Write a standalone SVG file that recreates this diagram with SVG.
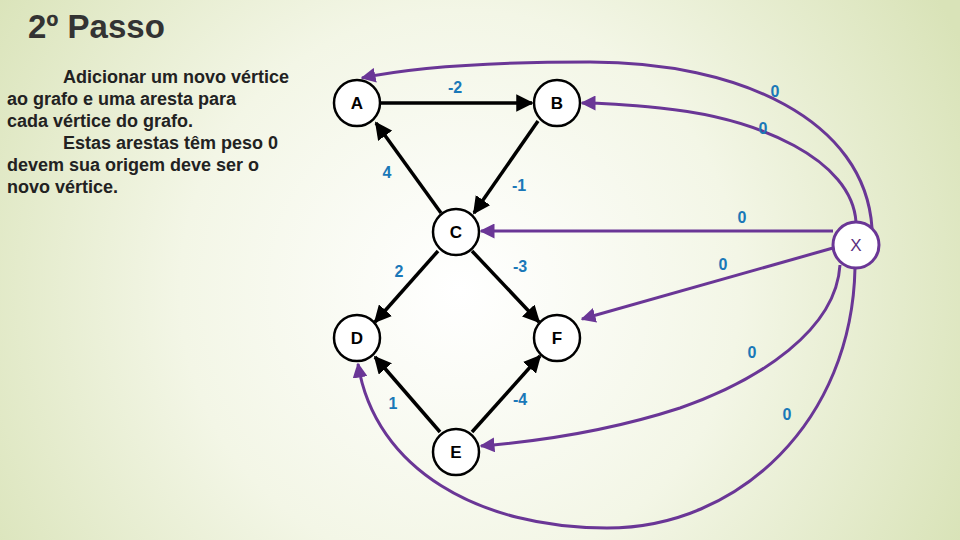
<svg xmlns="http://www.w3.org/2000/svg" width="960" height="540" viewBox="0 0 960 540">
<defs>
<radialGradient id="bg" cx="460" cy="290" r="560" gradientUnits="userSpaceOnUse">
<stop offset="0" stop-color="#ffffff"/><stop offset="0.5" stop-color="#f3f6e6"/><stop offset="1" stop-color="#d9e3b8"/>
</radialGradient>
<marker id="ab" viewBox="0 0 10 10" refX="9" refY="5" markerWidth="5" markerHeight="5" orient="auto"><path d="M0,0L10,5L0,10z" fill="#000"/></marker>
<marker id="ap" viewBox="0 0 10 10" refX="9" refY="5" markerWidth="5" markerHeight="5" orient="auto"><path d="M0,0L10,5L0,10z" fill="#6a3696"/></marker>
</defs>
<style>
.n{fill:#fff;stroke:#000;stroke-width:2.5}
.nt{font:bold 17px "Liberation Sans",Arial,sans-serif;text-anchor:middle;fill:#000}
.e{stroke:#000;stroke-width:3.5;fill:none;marker-end:url(#ab)}
.p{stroke:#6a3696;stroke-width:3;fill:none;marker-end:url(#ap)}
.l{font:bold 16px "Liberation Sans",Arial,sans-serif;fill:#1a78b8;text-anchor:middle}
.b{font:bold 18px "Liberation Sans",Arial,sans-serif;fill:#222}
</style>
<rect width="960" height="540" fill="url(#bg)"/>
<text x="28" y="38" style="font:bold 33px 'Liberation Sans',Arial,sans-serif;fill:#333">2º Passo</text>
<text class="b"><tspan x="63" y="83">Adicionar um novo vértice</tspan><tspan x="7" y="105">ao grafo e uma aresta para</tspan><tspan x="7" y="127">cada vértice do grafo.</tspan><tspan x="63" y="149">Estas arestas têm peso 0</tspan><tspan x="7" y="171">devem sua origem deve ser o</tspan><tspan x="7" y="193">novo vértice.</tspan></text>
<g id="connectors">
<line class="e" x1="381" y1="103" x2="532" y2="103"/>
<line class="e" x1="441" y1="213" x2="376" y2="123"/>
<line class="e" x1="538" y1="121" x2="474" y2="213"/>
<line class="e" x1="438" y1="251" x2="375" y2="322"/>
<line class="e" x1="472" y1="251" x2="539" y2="322"/>
<line class="e" x1="440" y1="432" x2="375" y2="357"/>
<line class="e" x1="472" y1="432" x2="540" y2="356"/>
<path class="p" d="M872,228 C865,120 740,62 590,62 C490,62 410,68 362,78"/>
<path class="p" d="M856,222 C852,160 760,118 660,108 C620,104 600,103 582,103"/>
<line class="p" x1="833" y1="231" x2="481" y2="231"/>
<line class="p" x1="833" y1="248" x2="582" y2="319"/>
<path class="p" d="M840,265 C836,330 760,380 680,408 C600,434 530,442 481,446"/>
<path class="p" d="M855,268 C852,420 740,528 607,528 C480,528 375,470 358,364"/>
</g>
<g class="l">
<text x="455" y="93">-2</text><text x="387" y="178">4</text><text x="519" y="191">-1</text>
<text x="399" y="277">2</text><text x="520" y="272">-3</text><text x="393" y="409">1</text><text x="520" y="405">-4</text>
<text x="775" y="97">0</text><text x="763" y="134">0</text><text x="742" y="223">0</text><text x="723" y="270">0</text>
<text x="752" y="358">0</text><text x="787" y="420">0</text>
</g>
<g id="A"><circle class="n" cx="357" cy="103" r="23"/><text class="nt" x="357" y="109">A</text></g>
<g id="B"><circle class="n" cx="557" cy="103" r="23"/><text class="nt" x="557" y="109">B</text></g>
<g id="C"><circle class="n" cx="456" cy="232" r="23"/><text class="nt" x="456" y="238">C</text></g>
<g id="D"><circle class="n" cx="357" cy="338" r="23"/><text class="nt" x="357" y="344">D</text></g>
<g id="F"><circle class="n" cx="557" cy="338" r="23"/><text class="nt" x="557" y="344">F</text></g>
<g id="E"><circle class="n" cx="456" cy="452" r="23"/><text class="nt" x="456" y="458">E</text></g>
<g id="X"><circle cx="856" cy="245" r="23" fill="#fff" stroke="#6a3696" stroke-width="3"/><text x="856" y="251" style="font:17px 'Liberation Sans',Arial,sans-serif;fill:#5a3080;text-anchor:middle">X</text></g>
</svg>
